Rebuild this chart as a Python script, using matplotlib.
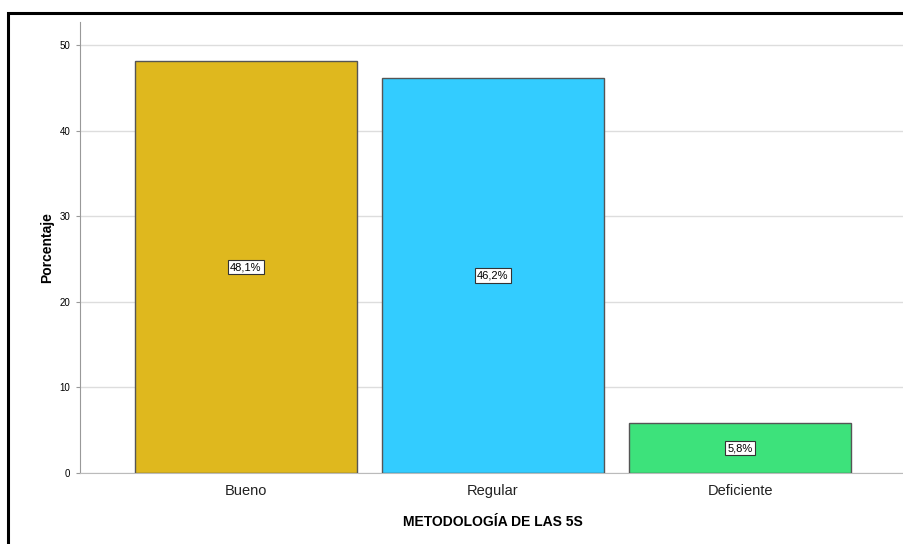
import matplotlib
matplotlib.use("Agg")
import matplotlib.pyplot as plt
from matplotlib.patches import Rectangle

categories = ["Bueno", "Regular", "Deficiente"]
percentages = [48.1, 46.2, 5.8]
value_labels = ["48,1%", "46,2%", "5,8%"]
colors = ["#DFB81E", "#33CCFF", "#3DE27B"]
y_ticks = [0, 10, 20, 30, 40, 50]

plt.rcParams["font.family"] = ["Liberation Sans", "DejaVu Sans"]

fig = plt.figure(figsize=(9.04, 5.44), dpi=100)
fig.patch.set_facecolor("white")

# outer frame (top and left edges visible)
fig.patches.append(Rectangle((8 / 904, -0.05), 1.2, (544 - 13) / 544 + 0.05,
                             transform=fig.transFigure, fill=False,
                             edgecolor="black", linewidth=2.2, zorder=0))

ax = fig.add_axes([80 / 904, (544 - 473) / 544, 826 / 904, (473 - 22) / 544])
x = list(range(len(categories)))
ax.bar(x, percentages, width=0.9, color=colors, edgecolor="#555555",
       linewidth=1.0, zorder=3)

for xi, v, lab in zip(x, percentages, value_labels):
    ax.text(xi, v / 2, lab, ha="center", va="center", fontsize=8, zorder=4,
            bbox=dict(boxstyle="square,pad=0.2", facecolor="white",
                      edgecolor="#333333", linewidth=0.8))

ax.set_xlim(-0.672, 2.672)
ax.set_ylim(0, 52.7)
ax.set_yticks(y_ticks)
ax.set_yticklabels([str(t) for t in y_ticks], fontsize=7)
ax.set_xticks(x)
ax.set_xticklabels(categories, fontsize=10.5, color="#222222")
ax.yaxis.grid(True, color="#DDDDDD", linewidth=1.0, zorder=0)
ax.set_axisbelow(True)

for side in ["top", "right"]:
    ax.spines[side].set_visible(False)
ax.spines["left"].set_color("#999999")
ax.spines["bottom"].set_color("#BBBBBB")
ax.tick_params(axis="y", length=3, color="#999999", pad=4)
ax.tick_params(axis="x", length=0, pad=8)

ax.set_ylabel("Porcentaje", fontsize=10, fontweight="bold", labelpad=4)
ax.set_xlabel("METODOLOGÍA DE LAS 5S", fontsize=10, fontweight="bold",
              labelpad=12)

fig.savefig("out.png", dpi=100)
